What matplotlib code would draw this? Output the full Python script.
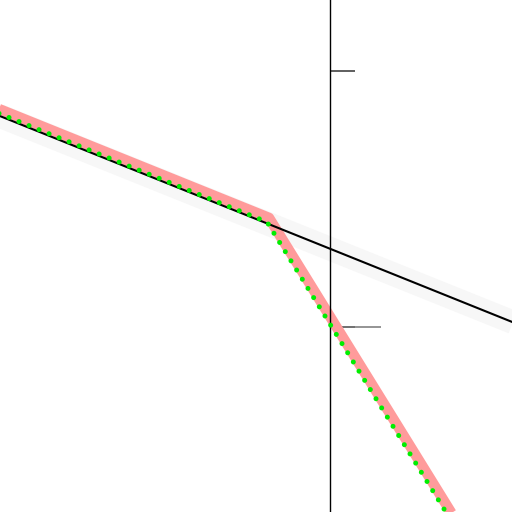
import matplotlib
matplotlib.use("Agg")
import matplotlib.pyplot as plt

# ── Data ──────────────────────────────────────────────────────────────────────
# straight line (with a faint wide halo)
line_x = [-3.5, 1.9]
line_y = [0.855, 0.007]

# kinked curve (pink, thick) and its dotted green twin
kink_pink_x = [-3.5, -0.61, 1.33]
kink_pink_y = [0.881, 0.426, -0.80]
kink_green_x = [-3.5, -0.63, 1.28]
kink_green_y = [0.864, 0.410, -0.80]

y_ticks = [0, 1]

# ── Figure ────────────────────────────────────────────────────────────────────
fig = plt.figure(figsize=(5.12, 5.12), dpi=100)
ax = fig.add_axes([0, 0, 1, 1])
ax.set_xlim(-3.3, 1.82)
ax.set_ylim(-0.723, 1.277)

ax.plot(line_x, line_y, color="#f7f7f7", linewidth=17, solid_capstyle="butt", zorder=1)
ax.plot(kink_pink_x, kink_pink_y, color="#ff9b9b", linewidth=7.5,
        solid_joinstyle="round", solid_capstyle="butt", zorder=2)
ax.plot(line_x, line_y, color="black", linewidth=1.5, zorder=3)
ax.plot(kink_green_x, kink_green_y, color="#00ee00", linewidth=3.6,
        linestyle=(0, (0.01, 2.15)), dash_capstyle="round", zorder=5)

# vertical axis through x = 0, ticks pointing right
for side in ["top", "right", "bottom"]:
    ax.spines[side].set_visible(False)
ax.spines["left"].set_position(("data", 0))
ax.spines["left"].set_linewidth(1.0)
ax.spines["left"].set_zorder(4)
ax.xaxis.set_visible(False)
ax.set_yticks(y_ticks)
ax.set_yticks([0], minor=True)
ax.yaxis.remove_overlapping_locs = False
ax.tick_params(axis="y", which="major", direction="in", length=18, width=1.1,
               color="#333333", labelleft=False)
ax.tick_params(axis="y", which="minor", direction="in", length=37, width=1.1,
               color="#777777", labelleft=False)
ax.set_facecolor("white")

plt.savefig("out.png", dpi=100, facecolor="white")
plt.close()
